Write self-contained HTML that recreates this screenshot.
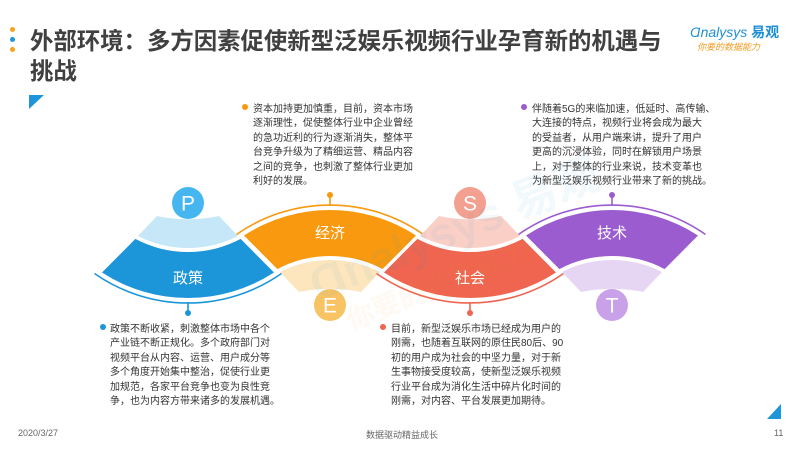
<!DOCTYPE html>
<html><head><meta charset="utf-8"><style>
html,body{margin:0;padding:0;background:#fff;}
body{width:800px;height:450px;position:relative;overflow:hidden;font-family:"Liberation Sans","Noto Sans CJK SC",sans-serif;color:#404040;}
.t{position:absolute;font-size:10px;line-height:14.4px;color:#333;white-space:nowrap;}
.dot{position:absolute;width:6px;height:6px;border-radius:50%;}
</style></head><body>
<div class="dot" style="left:10px;top:27px;width:5px;height:5px;background:#f7a21b"></div>
<div class="dot" style="left:10px;top:37px;width:5px;height:5px;background:#1d96d9"></div>
<div class="dot" style="left:10px;top:47px;width:5px;height:5px;background:#f7a21b"></div>
<div style="position:absolute;left:30px;top:26px;font-size:23.4px;font-weight:bold;line-height:30px;color:#404040;white-space:nowrap;">外部环境：多方因素促使新型泛娱乐视频行业孕育新的机遇与<br>挑战</div>
<div style="position:absolute;left:690px;top:22px;font-size:14px;color:#1d8fd6;font-weight:bold;white-space:nowrap;"><span style="font-weight:normal;font-style:italic">Ɑnalysys</span> 易观</div>
<div style="position:absolute;left:697px;top:40px;font-size:9px;color:#f29a1e;font-style:italic;white-space:nowrap;">你要的数据能力</div>

<svg width="800" height="450" style="position:absolute;left:0;top:0">
<polygon points="29,95 44,95 29,109" fill="#1d96d9"/>
<polygon points="781,404 781,419 767,419" fill="#1d96d9"/>
<defs>
<g id="dk"><path d="M135.4,238.9 A112,112 0 0 0 240.6,238.9 L274,272.5 A158,158 0 0 1 102,272.5 Z"/></g>
<g id="lt"><path d="M157,216 A150,150 0 0 0 219,216 L238,236 A110,110 0 0 1 138,236 Z"/></g>
<g id="ar"><path d="M94.5,273.5 A163,163 0 0 0 281.5,273.5" fill="none" stroke-width="1.6"/><line x1="188" y1="302" x2="188" y2="312" stroke-width="1.6"/></g>
</defs>
<use href="#lt" fill="#c6e7f8"/>
<use href="#dk" fill="#1d96d9"/>
<use href="#ar" stroke="#1d96d9"/>
<circle cx="188" cy="313" r="3" fill="#1d96d9"/>
<g transform="matrix(1,0,0,-1,142,508)">
<use href="#lt" fill="#fde5bd"/><use href="#dk" fill="#f8990f"/><use href="#ar" stroke="#f8990f"/>
</g>
<circle cx="330" cy="195" r="3" fill="#f8990f"/>
<g transform="translate(282,0)">
<use href="#lt" fill="#fad0c6"/><use href="#dk" fill="#ef6550"/><use href="#ar" stroke="#ef6550"/>
</g>
<circle cx="470" cy="313" r="3" fill="#ef6550"/>
<g transform="matrix(1,0,0,-1,424,508)">
<use href="#lt" fill="#e6d5f3"/><use href="#dk" fill="#9b5ccf"/><use href="#ar" stroke="#9b5ccf"/>
</g>
<circle cx="612" cy="195" r="3" fill="#9b5ccf"/>
<g font-family="Liberation Sans, sans-serif" font-size="21" fill="#fff" text-anchor="middle">
<circle cx="188" cy="203" r="16" fill="#45b6f0"/><text x="188" y="210.5">P</text>
<circle cx="330" cy="305" r="16" fill="#f8c463"/><text x="330" y="312.5">E</text>
<circle cx="470" cy="203" r="16" fill="#f3a090"/><text x="470" y="210.5">S</text>
<circle cx="612" cy="305" r="16" fill="#c9a1e8"/><text x="612" y="312.5">T</text>
</g>
<g font-family="Liberation Sans, Noto Sans CJK SC, sans-serif" font-size="15" fill="#fff" text-anchor="middle">
<text x="188" y="283">政策</text>
<text x="330" y="238">经济</text>
<text x="470" y="283">社会</text>
<text x="612" y="238">技术</text>
</g>
<g font-family="Liberation Sans, Noto Sans CJK SC, sans-serif" font-weight="bold" opacity="0.05" transform="rotate(-22 440 230)">
<text x="300" y="250" font-size="46" fill="#1d96d9">Ɑnalysys 易观</text>
<text x="320" y="290" font-size="28" fill="#f29a1e">你要的数据能力</text>
</g>
</svg>

<div class="dot" style="left:242px;top:104px;background:#f8990f"></div>
<div class="t" style="left:253px;top:103px;">资本加持更加慎重，目前，资本市场<br>逐渐理性，促使整体行业中企业曾经<br>的急功近利的行为逐渐消失，整体平<br>台竞争升级为了精细运营、精品内容<br>之间的竞争，也刺激了整体行业更加<br>利好的发展。</div>

<div class="dot" style="left:521px;top:104px;background:#9b5ccf"></div>
<div class="t" style="left:532px;top:103px;">伴随着5G的来临加速，低延时、高传输、<br>大连接的特点，视频行业将会成为最大<br>的受益者，从用户端来讲，提升了用户<br>更高的沉浸体验，同时在解锁用户场景<br>上，对于整体的行业来说，技术变革也<br>为新型泛娱乐视频行业带来了新的挑战。</div>

<div class="dot" style="left:100px;top:324px;background:#1d96d9"></div>
<div class="t" style="left:110px;top:323px;">政策不断收紧，刺激整体市场中各个<br>产业链不断正规化。多个政府部门对<br>视频平台从内容、运营、用户成分等<br>多个角度开始集中整治，促使行业更<br>加规范，各家平台竞争也变为良性竞<br>争，也为内容方带来诸多的发展机遇。</div>

<div class="dot" style="left:380px;top:324px;background:#ef6550"></div>
<div class="t" style="left:391px;top:323px;">目前，新型泛娱乐市场已经成为用户的<br>刚需，也随着互联网的原住民80后、90<br>初的用户成为社会的中坚力量，对于新<br>生事物接受度较高，使新型泛娱乐视频<br>行业平台成为消化生活中碎片化时间的<br>刚需，对内容、平台发展更加期待。</div>

<div style="position:absolute;left:18px;top:428px;font-size:9px;color:#666;">2020/3/27</div>
<div style="position:absolute;left:360px;top:428px;width:84px;text-align:center;font-size:9px;color:#666;white-space:nowrap;">数据驱动精益成长</div>
<div style="position:absolute;left:774px;top:428px;font-size:9px;color:#666;">11</div>
</body></html>
